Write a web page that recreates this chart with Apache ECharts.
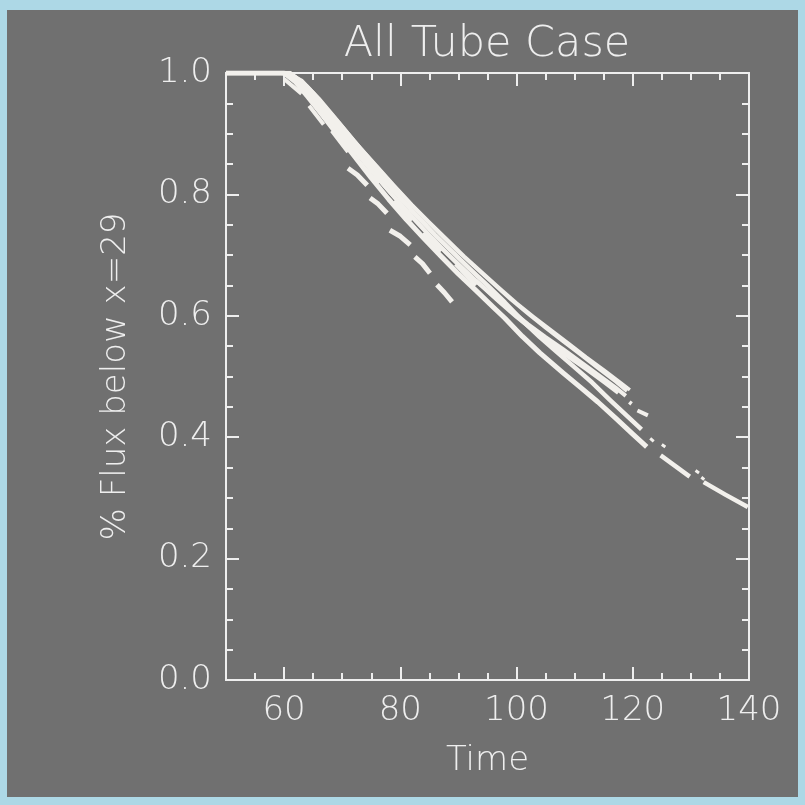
<!DOCTYPE html>
<html>
<head>
<meta charset="utf-8">
<script src="https://cdn.jsdelivr.net/npm/echarts@6/dist/echarts.min.js"></script>
<style>
  html, body { margin: 0; padding: 0; background: #add8e6; }
  #chart { position: absolute; left: 7px; top: 10px; width: 791px; height: 787px; }
</style>
</head>
<body>
<div id="chart"></div>
<script>
// Axis ranges and tick values
const TIME_RANGE = [50, 140];
const TIME_TICKS = [60, 80, 100, 120, 140];
const TIME_MINOR = [55, 65, 70, 75, 85, 90, 95, 105, 110, 115, 125, 130, 135];
const FLUX_RANGE = [0, 1];
const FLUX_STEP = 0.2;

// Flux fraction below x=29 against time, one array per tube
const tubeA = [[50,1.0],[59,1.0],[61,0.998],[63,0.988],[65,0.968],[67,0.945],[70,0.912],[73,0.878],[76,0.846],[79,0.814],[82,0.783],[85,0.754],[88,0.726],[91,0.698],[94,0.672],[97,0.646],[100,0.621],[103,0.598],[106,0.576],[109,0.554],[112,0.532],[115,0.511],[118,0.489],[119.5,0.478]];
const tubeA2 = [[50,1.0],[60,1.0],[62,0.993],[64,0.978],[66,0.958],[69,0.924],[72,0.889],[75,0.856],[78,0.823],[81,0.792],[84,0.762],[87,0.733],[90,0.705],[93,0.679],[96,0.653],[99,0.627],[102,0.603],[105,0.580],[108,0.558],[111,0.536],[114,0.514],[117,0.492],[119,0.476]];
const tubeB = [[50,1.0],[60,1.0],[62,0.99],[64,0.972],[66,0.95],[69,0.913],[72,0.876],[75,0.840],[78,0.806],[81,0.774],[84,0.743],[87,0.713],[90,0.685],[93,0.658],[96,0.633],[99,0.609],[102,0.586],[105,0.565],[108,0.545],[111,0.524],[114,0.503],[117,0.482],[118.8,0.468]];
const tubeB2 = [[50,1.0],[60,1.0],[62,0.988],[64,0.968],[67,0.934],[70,0.898],[73,0.862],[76,0.828],[79,0.795],[82,0.763],[85,0.732],[88,0.703],[91,0.675],[94,0.649],[97,0.623],[100,0.598],[103,0.575],[106,0.553],[109,0.532],[112,0.512],[115,0.491],[117.5,0.473]];
const tubeC2 = [[50,1.0],[61,1.0],[63,0.985],[65,0.963],[68,0.93],[71,0.895],[74,0.86],[77,0.826],[80,0.794],[83,0.763],[86,0.733],[89,0.705],[92,0.677],[95,0.65],[98,0.622],[101,0.592],[104,0.565],[107,0.54],[110,0.515],[113,0.49],[116,0.462],[119,0.435],[121.5,0.413]];
const tubeC = [[50,1.0],[60,1.0],[62,0.985],[64,0.962],[66,0.938],[69,0.901],[72,0.864],[75,0.827],[78,0.792],[81,0.759],[84,0.728],[87,0.698],[90,0.669],[93,0.642],[96,0.614],[98,0.596],[101,0.566],[104,0.539],[108,0.506],[111,0.482],[114,0.458],[117,0.432],[120,0.405],[122.4,0.384]];

// Broken stretches of tubes, one inner array per drawn piece
const tubeBTail = [[[119.4,0.458],[119.8,0.455]], [[120.8,0.444],[122.6,0.436]]];
const tubeCTail = [[[124.8,0.370],[129.8,0.335]], [[132.2,0.326],[136,0.305],[139.8,0.285]]];
const tubeDTail = [[[123,0.398],[123.6,0.393]], [[125,0.388],[125.6,0.384]], [[130.8,0.345],[131.4,0.341]], [[131.8,0.334],[132.3,0.330]]];
const tubeE = [[[60,0.99],[63,0.966]], [[64.3,0.946],[66.8,0.915]], [[68.2,0.905],[71,0.87]], [[73,0.852],[76.3,0.818]], [[79,0.79],[82,0.757]], [[84,0.737],[87,0.706]], [[89.5,0.685],[93,0.65]]];
const tubeF = [[[71.0,0.843],[72.6,0.832],[74.3,0.815]], [[74.8,0.794],[76.2,0.784],[77.7,0.769]], [[78.2,0.741],[80,0.731],[81.7,0.717]], [[82.5,0.697],[83.8,0.686],[85.1,0.670]], [[86.3,0.651],[87.6,0.638],[88.9,0.623]]];

const INK = '#f2f0ec';
const FONT = 'DejaVu Sans';

function pieces(segs) {
  const out = [];
  segs.forEach(function (s, i) {
    if (i > 0) out.push([s[0][0], '-']);
    s.forEach(function (p) { out.push(p); });
  });
  return out;
}

function lineSeries(data, width) {
  return {
    type: 'line', data: data, xAxisIndex: 0, yAxisIndex: 0,
    showSymbol: false, symbol: 'none', connectNulls: false,
    lineStyle: { color: INK, width: width, cap: 'butt', join: 'round' },
    silent: true, animation: false
  };
}

const axisText = { color: '#eeeeee', fontFamily: FONT, fontWeight: 200, fontSize: 34 };
const lineStyle = { color: '#eeeeee', width: 2 };

function timeAxis(pos, ticks, len, labels) {
  return {
    type: 'value', position: pos, min: TIME_RANGE[0], max: TIME_RANGE[1],
    axisLine: { show: true, onZero: false, lineStyle: lineStyle },
    axisTick: { show: true, inside: true, length: len, lineStyle: lineStyle, customValues: ticks },
    axisLabel: labels ? Object.assign({ show: true, margin: 14, customValues: ticks }, axisText) : { show: false },
    splitLine: { show: false },
    name: labels ? 'Time' : '', nameLocation: 'middle', nameGap: 64,
    nameTextStyle: axisText
  };
}

function fluxAxis(pos, labels) {
  return {
    type: 'value', position: pos, min: FLUX_RANGE[0], max: FLUX_RANGE[1], interval: FLUX_STEP,
    axisLine: { show: true, onZero: false, lineStyle: lineStyle },
    axisTick: { show: true, inside: true, length: 13, lineStyle: lineStyle },
    minorTick: { show: true, splitNumber: 4, length: 7, lineStyle: lineStyle },
    axisLabel: labels ? Object.assign({ show: true, margin: 14, formatter: function (v) { return v.toFixed(1); } }, axisText) : { show: false },
    splitLine: { show: false }, minorSplitLine: { show: false },
    name: labels ? '% Flux below x=29' : '', nameLocation: 'middle', nameGap: 93,
    nameTextStyle: axisText
  };
}

const chart = echarts.init(document.getElementById('chart'), null, { renderer: 'canvas' });
chart.setOption({
  backgroundColor: '#707070',
  animation: false,
  graphic: [{
    type: 'text', x: 480, y: 13,
    style: {
      text: 'All Tube Case', fill: '#eeeeee', fontFamily: FONT, fontWeight: 200,
      fontSize: 43, align: 'center', verticalAlign: 'top'
    }
  }],
  grid: { left: 219, top: 63, width: 523, height: 607 },
  xAxis: [
    timeAxis('bottom', TIME_TICKS, 13, true),
    timeAxis('bottom', TIME_MINOR, 7, false),
    timeAxis('top', TIME_TICKS, 13, false),
    timeAxis('top', TIME_MINOR, 7, false)
  ],
  yAxis: [fluxAxis('left', true), fluxAxis('right', false)],
  series: [
    lineSeries(tubeA, 3.5),
    lineSeries(tubeA2, 3.5),
    lineSeries(tubeB, 4),
    lineSeries(tubeB2, 4),
    lineSeries(tubeC2, 4.5),
    lineSeries(tubeC, 5),
    lineSeries(pieces(tubeBTail), 4),
    lineSeries(pieces(tubeCTail), 4.5),
    lineSeries(pieces(tubeDTail), 3),
    lineSeries(pieces(tubeE), 4),
    lineSeries(pieces(tubeF), 5)
  ]
});
</script>
</body>
</html>
